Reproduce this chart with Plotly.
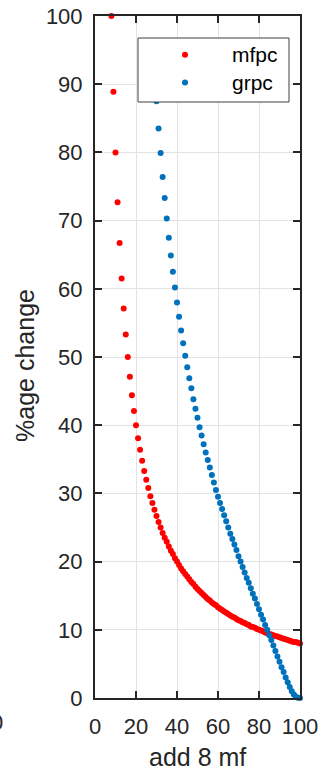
import plotly.graph_objects as go

# ---- data ----
mf_x = [8, 9, 10, 11, 12, 13, 14, 15, 16, 17, 18, 19, 20, 21, 22, 23, 24, 25, 26, 27,
        28, 29, 30, 31, 32, 33, 34, 35, 36, 37, 38, 39, 40, 41, 42, 43, 44, 45, 46, 47,
        48, 49, 50, 51, 52, 53, 54, 55, 56, 57, 58, 59, 60, 61, 62, 63, 64, 65, 66, 67,
        68, 69, 70, 71, 72, 73, 74, 75, 76, 77, 78, 79, 80, 81, 82, 83, 84, 85, 86, 87,
        88, 89, 90, 91, 92, 93, 94, 95, 96, 97, 98, 99, 100]
mfpc = [100.0, 88.9, 80.0, 72.7, 66.7, 61.5, 57.1, 53.3, 50.0, 47.1, 44.4, 42.1, 40.0,
        38.1, 36.4, 34.8, 33.3, 32.0, 30.8, 29.6, 28.6, 27.6, 26.7, 25.8, 25.0, 24.2,
        23.5, 22.9, 22.2, 21.6, 21.1, 20.5, 20.0, 19.5, 19.0, 18.6, 18.2, 17.8, 17.4,
        17.0, 16.7, 16.3, 16.0, 15.7, 15.4, 15.1, 14.8, 14.5, 14.3, 14.0, 13.8, 13.6,
        13.3, 13.1, 12.9, 12.7, 12.5, 12.3, 12.1, 11.9, 11.8, 11.6, 11.4, 11.3, 11.1,
        11.0, 10.8, 10.7, 10.5, 10.4, 10.3, 10.1, 10.0, 9.9, 9.8, 9.6, 9.5, 9.4, 9.3,
        9.2, 9.1, 9.0, 8.9, 8.8, 8.7, 8.6, 8.5, 8.4, 8.3, 8.2, 8.2, 8.1, 8.0]

gr_x = [30, 31, 32, 33, 34, 35, 36, 37, 38, 39, 40, 41, 42, 43, 44, 45, 46, 47, 48, 49,
        50, 51, 52, 53, 54, 55, 56, 57, 58, 59, 60, 61, 62, 63, 64, 65, 66, 67, 68, 69,
        70, 71, 72, 73, 74, 75, 76, 77, 78, 79, 80, 81, 82, 83, 84, 85, 86, 87, 88, 89,
        90, 91, 92, 93, 94, 95, 96, 97, 98, 99, 100]
grpc = [87.5, 83.5, 79.9, 76.4, 73.3, 70.3, 67.5, 64.9, 62.5, 60.2, 58.0, 55.9, 53.9,
        52.0, 50.2, 48.5, 46.9, 45.4, 43.8, 42.4, 41.1, 39.7, 38.5, 37.2, 36.0, 34.9,
        33.8, 32.7, 31.6, 30.5, 29.5, 28.6, 27.7, 26.8, 25.9, 25.0, 24.1, 23.3, 22.5,
        21.7, 20.8, 20.0, 19.2, 18.4, 17.6, 16.9, 16.1, 15.3, 14.6, 13.8, 13.0, 12.2,
        11.5, 10.7, 10.0, 9.2, 8.5, 7.7, 6.9, 6.1, 5.3, 4.5, 3.8, 3.0, 2.3, 1.6, 1.0,
        0.5, 0.2, 0.05, 0.0]

x_ticks = [0, 20, 40, 60, 80, 100]
y_ticks = [0, 10, 20, 30, 40, 50, 60, 70, 80, 90, 100]

FONT = "Liberation Sans, Arial, sans-serif"
AX = "#262626"

fig = go.Figure()
fig.add_trace(go.Scatter(x=mf_x, y=mfpc, mode="markers",
                         name='<span style="font-size:21px">mfpc</span>',
                         marker=dict(color="#ff0000", size=6), cliponaxis=False))
fig.add_trace(go.Scatter(x=gr_x, y=grpc, mode="markers",
                         name='<span style="font-size:21px">grpc</span>',
                         marker=dict(color="#0072BD", size=6), cliponaxis=False))

axis_common = dict(showline=True, linecolor=AX, linewidth=2, mirror="ticks",
                   ticks="inside", ticklen=7, tickwidth=2, tickcolor=AX,
                   showgrid=True, gridcolor="#e3e3e3", gridwidth=1, zeroline=False,
                   tickfont=dict(family=FONT, size=22, color=AX))

fig.update_xaxes(range=[0, 100], tickvals=x_ticks, ticktext=[str(v) for v in x_ticks],
                 ticklabelstandoff=8, **axis_common)
fig.update_yaxes(range=[0, 100], tickvals=y_ticks, ticktext=[str(v) for v in y_ticks],
                 ticklabelstandoff=6, **axis_common)

fig.update_layout(
    width=322, height=775,
    margin=dict(l=95, r=22, t=16, b=77, autoexpand=False),
    paper_bgcolor="white", plot_bgcolor="white",
    showlegend=True,
    legend=dict(x=0.2098, y=0.9707, xanchor="left", yanchor="top",
                bgcolor="rgba(0,0,0,0)", borderwidth=0,
                font=dict(family=FONT, size=19, color="#000000"),
                itemwidth=84, tracegroupgap=0),
    shapes=[
        dict(type="rect", xref="paper", yref="paper",
             x0=0.2098, x1=0.9463, y0=0.8739, y1=0.9677,
             fillcolor="white", line=dict(color="#404040", width=1), layer="above"),
    ],
    annotations=[
        dict(text="%age change", xref="paper", yref="paper", x=-0.3415, y=0.4883,
             textangle=-90, showarrow=False, xanchor="center", yanchor="middle",
             font=dict(family=FONT, size=25, color=AX)),
        dict(text="add 8 mf", xref="paper", yref="paper", x=0.4976, y=-0.0865,
             showarrow=False, xanchor="center", yanchor="middle",
             font=dict(family=FONT, size=25, color=AX)),
        dict(text="0", xref="paper", yref="paper", x=-0.478, y=-0.0352,
             showarrow=False, xanchor="center", yanchor="middle",
             font=dict(family=FONT, size=22, color=AX)),
    ],
)

fig.write_html("out.html")
